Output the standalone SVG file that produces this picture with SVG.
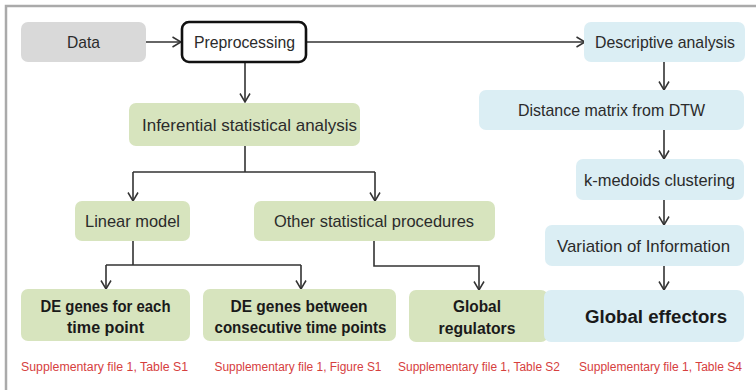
<svg xmlns="http://www.w3.org/2000/svg" width="756" height="390" viewBox="0 0 756 390">
<defs>
<marker id="ah" viewBox="0 0 10 12" refX="9.5" refY="6" markerWidth="10" markerHeight="12" markerUnits="userSpaceOnUse" orient="auto">
<path d="M1,1 L9.5,6 L1,11" fill="none" stroke="#333" stroke-width="1.5"/>
</marker>
</defs>
<style>
.frame{stroke:#aaaaaa;stroke-width:2.5;fill:none}
.green{fill:#d7e4be}
.blue{fill:#dbeef4}
.gray{fill:#d9d9d9}
.t{font-family:"Liberation Sans",Arial,sans-serif;font-size:17px;fill:#2b2b2b;text-anchor:middle}
.b{font-family:"Liberation Sans",Arial,sans-serif;font-size:17px;font-weight:bold;fill:#1a1a1a;text-anchor:middle}
.r{font-family:"Liberation Sans",Arial,sans-serif;font-size:12.5px;fill:#d6403e;text-anchor:middle}
.c{fill:none;stroke:#333;stroke-width:1.6}
</style>
<rect width="756" height="390" fill="#ffffff"/>
<path class="frame" d="M6,390 L6,6 L756,6"/>
<g id="connectors">
<path class="c" d="M146,42 L181,42" marker-end="url(#ah)"/>
<path class="c" d="M306,42 L585,42" marker-end="url(#ah)"/>
<path class="c" d="M245,62 L245,102" marker-end="url(#ah)"/>
<path class="c" d="M245,146 L245,172 M133,172 L375,172"/>
<path class="c" d="M133,172 L133,201" marker-end="url(#ah)"/>
<path class="c" d="M375,172 L375,201" marker-end="url(#ah)"/>
<path class="c" d="M133,241 L133,265 M106,265 L301,265"/>
<path class="c" d="M106,265 L106,289" marker-end="url(#ah)"/>
<path class="c" d="M301,265 L301,289" marker-end="url(#ah)"/>
<path class="c" d="M374,241 L374,266 L479,266 L479,290" marker-end="url(#ah)"/>
<path class="c" d="M664,62 L664,90" marker-end="url(#ah)"/>
<path class="c" d="M664,130 L664,159" marker-end="url(#ah)"/>
<path class="c" d="M664,200 L664,225" marker-end="url(#ah)"/>
<path class="c" d="M664,266 L664,290" marker-end="url(#ah)"/>
</g>
<g id="data"><rect class="gray" x="21" y="22" width="125" height="40" rx="7"/><text class="t" x="83.5" y="48" textLength="33" lengthAdjust="spacingAndGlyphs">Data</text></g>
<g id="preprocessing"><rect x="182" y="22" width="124" height="40" rx="7" fill="#fff" stroke="#111" stroke-width="2.6"/><text class="t" x="244.5" y="48" textLength="101" lengthAdjust="spacingAndGlyphs">Preprocessing</text></g>
<g id="inferential"><rect class="green" x="129" y="103" width="231" height="43" rx="7"/><text class="t" x="249.5" y="130.5" textLength="215" lengthAdjust="spacingAndGlyphs">Inferential statistical analysis</text></g>
<g id="linear"><rect class="green" x="75" y="201" width="115" height="40" rx="7"/><text class="t" x="132.5" y="227" textLength="95" lengthAdjust="spacingAndGlyphs">Linear model</text></g>
<g id="other"><rect class="green" x="254" y="201" width="241" height="40" rx="7"/><text class="t" x="374" y="227" textLength="200" lengthAdjust="spacingAndGlyphs">Other statistical procedures</text></g>
<g id="de-each"><rect class="green" x="21" y="289" width="169" height="52" rx="7"/><text class="b" x="105.5" y="311.5" textLength="130" lengthAdjust="spacingAndGlyphs">DE genes for each</text><text class="b" x="105.5" y="333" textLength="77" lengthAdjust="spacingAndGlyphs">time point</text></g>
<g id="de-between"><rect class="green" x="203" y="289" width="193" height="52" rx="7"/><text class="b" x="299" y="311.5" textLength="137" lengthAdjust="spacingAndGlyphs">DE genes between</text><text class="b" x="300.5" y="333" textLength="172" lengthAdjust="spacingAndGlyphs">consecutive time points</text></g>
<g id="global-regulators"><rect class="green" x="409" y="290" width="139" height="52" rx="7"/><text class="b" x="477" y="312" textLength="48" lengthAdjust="spacingAndGlyphs">Global</text><text class="b" x="477" y="333.5" textLength="77" lengthAdjust="spacingAndGlyphs">regulators</text></g>
<g id="descriptive"><rect class="blue" x="584" y="22" width="161" height="40" rx="7"/><text class="t" x="665" y="48" textLength="140" lengthAdjust="spacingAndGlyphs">Descriptive analysis</text></g>
<g id="distance"><rect class="blue" x="479" y="90" width="265" height="40" rx="7"/><text class="t" x="611.5" y="116" textLength="187" lengthAdjust="spacingAndGlyphs">Distance matrix from DTW</text></g>
<g id="kmedoids"><rect class="blue" x="576" y="159" width="168" height="41" rx="7"/><text class="t" x="659.5" y="185.5" textLength="151" lengthAdjust="spacingAndGlyphs">k-medoids clustering</text></g>
<g id="variation"><rect class="blue" x="545" y="225" width="199" height="41" rx="7"/><text class="t" x="643.5" y="251.5" textLength="173" lengthAdjust="spacingAndGlyphs">Variation of Information</text></g>
<g id="global-effectors"><rect class="blue" x="544" y="290" width="200" height="52" rx="7"/><text class="b" x="656" y="322.5" style="font-size:18px" textLength="142" lengthAdjust="spacingAndGlyphs">Global effectors</text></g>
<g id="refs">
<text class="r" x="104.5" y="371" textLength="167" lengthAdjust="spacingAndGlyphs">Supplementary file 1, Table S1</text>
<text class="r" x="298" y="371" textLength="167" lengthAdjust="spacingAndGlyphs">Supplementary file 1, Figure S1</text>
<text class="r" x="479" y="371" textLength="162" lengthAdjust="spacingAndGlyphs">Supplementary file 1, Table S2</text>
<text class="r" x="660.5" y="371" textLength="163" lengthAdjust="spacingAndGlyphs">Supplementary file 1, Table S4</text>
</g>
</svg>
